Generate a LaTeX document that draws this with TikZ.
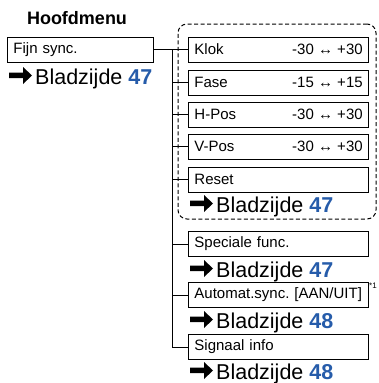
\documentclass[tikz,border=0pt]{standalone}
\usepackage{fontspec}
\setmainfont{Liberation Sans}
\usetikzlibrary{positioning}
\definecolor{refblue}{RGB}{38,92,170}
\frenchspacing

\newcommand{\boxfont}{\fontsize{15}{18}\selectfont}
\newcommand{\reffont}{\fontsize{21.5}{24}\selectfont}

\begin{document}
\begin{tikzpicture}[
        x=1pt, y=-1pt,
        menubox/.style={
            draw,
            line width=0.9pt,
            anchor=west,
            minimum height=25pt,
            inner xsep=6pt,
            text width=#1,
            align=left,
            font=\boxfont
        },
        menubox/.default=168pt,
        valuetext/.style={anchor=east, inner sep=0pt, font=\boxfont},
        pagetext/.style={anchor=base west, inner sep=0pt, font=\reffont},
        groupbox/.style={
            draw,
            dash pattern=on 4pt off 2.5pt,
            line width=1pt,
            rounded corners=9pt
        },
        branch/.style={line width=1pt},
        refarrow/.pic={
            \fill (-26pt,6pt) -- (-12pt,6pt) -- (-12pt,0pt) -- (-3pt,8.5pt)
                -- (-12pt,17pt) -- (-12pt,11.5pt) -- (-26pt,11.5pt) -- cycle;
        }
    ]
        \useasboundingbox (0,0) rectangle (378,383);

        % main menu
        \node[anchor=base, font=\fontsize{18}{21}\selectfont\bfseries] (title) at (77,24) {Hoofdmenu};
        \node[menubox=134pt] (fijn) at (7,49.5) {Fijn sync.};
        \node[pagetext] (ref0) at (35,84) {Bladzijde \textbf{\textcolor{refblue}{47}}};
        \pic at (ref0.base west) {refarrow};

        % sync group
        \node[groupbox, minimum width=198pt, minimum height=195pt] (syncgroup) at (277,121.5) {};
        \node[menubox] (klok) at (188,49.5) {Klok};
        \node[menubox] (fase) at (188,82.5) {Fase};
        \node[menubox] (hpos) at (188,114.5) {H-Pos};
        \node[menubox] (vpos) at (188,146.5) {V-Pos};
        \node[menubox] (reset) at (188,179.5) {Reset};
        \node[valuetext] at ([xshift=-6pt]klok.east) {-30 ↔ +30};
        \node[valuetext] at ([xshift=-6pt]fase.east) {-15 ↔ +15};
        \node[valuetext] at ([xshift=-6pt]hpos.east) {-30 ↔ +30};
        \node[valuetext] at ([xshift=-6pt]vpos.east) {-30 ↔ +30};
        \node[pagetext] (ref1) at (216,212) {Bladzijde \textbf{\textcolor{refblue}{47}}};
        \pic at (ref1.base west) {refarrow};

        % other items
        \node[menubox] (special) at (188,244) {Speciale func.};
        \node[pagetext] (ref2) at (216,277) {Bladzijde \textbf{\textcolor{refblue}{47}}};
        \pic at (ref2.base west) {refarrow};
        \node[menubox] (autosync) at (188,295) {Automat.sync. [AAN/UIT]};
        \node[anchor=north west, inner sep=0pt, font=\footnotesize] (note) at (369,283) {*1};
        \node[pagetext] (ref3) at (216,328) {Bladzijde \textbf{\textcolor{refblue}{48}}};
        \pic at (ref3.base west) {refarrow};
        \node[menubox] (signal) at (188,347) {Signaal info};
        \node[pagetext] (ref4) at (216,379) {Bladzijde \textbf{\textcolor{refblue}{48}}};
        \pic at (ref4.base west) {refarrow};

        % connectors
        \coordinate (trunk) at (172,49.5);
        \draw[branch] (fijn) -- (klok);
        \draw[branch] (trunk) |- (signal.west);
        \foreach \item in {fase,hpos,vpos,reset,special,autosync}
            \draw[branch] (trunk |- \item.west) -- (\item.west);
    \end{tikzpicture}
\end{document}
